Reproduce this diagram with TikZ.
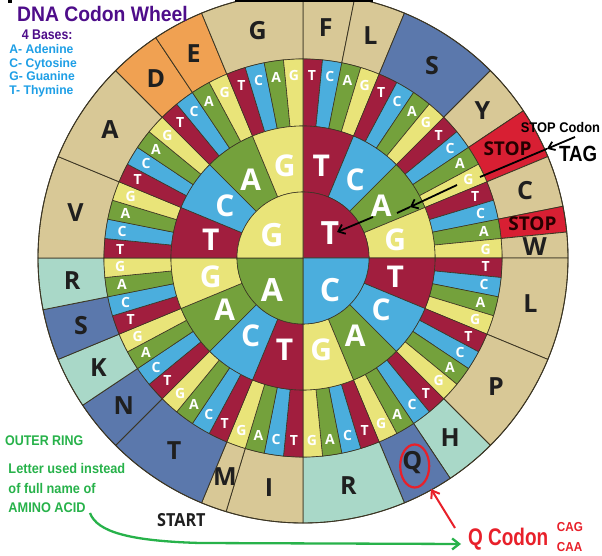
\documentclass[tikz,border=0pt]{standalone}
\usepackage{fontspec}
\setmainfont{Liberation Sans}
\newfontfamily\ringfont{Open Sans}
\usetikzlibrary{arrows.meta,shapes.geometric}
\definecolor{cT}{HTML}{A11E3E}
\definecolor{cC}{HTML}{4BAEDD}
\definecolor{cA}{HTML}{74A13C}
\definecolor{cG}{HTML}{E9E479}
\definecolor{tanc}{HTML}{D8C896}
\definecolor{slate}{HTML}{5B78AC}
\definecolor{mint}{HTML}{A9D8C8}
\definecolor{orng}{HTML}{F0A152}
\definecolor{stopred}{HTML}{D81F33}
\definecolor{edge}{HTML}{3B3523}
\definecolor{ttl}{HTML}{4E0D8A}
\definecolor{basecol}{HTML}{1E9FE6}
\definecolor{grn}{HTML}{27B24A}
\definecolor{qred}{HTML}{E8202A}
\tikzset{
  aalabel/.style={text=black!88, font=\ringfont\bfseries\fontsize{25}{25}\selectfont, inner sep=0pt},
  stoplabel/.style={text=black!85!red, font=\ringfont\bfseries\fontsize{19}{19}\selectfont, inner sep=0pt},
  outerlabel/.style={text=white, font=\ringfont\bfseries\fontsize{14}{14}\selectfont, inner sep=0pt},
  midlabel/.style={text=white, font=\ringfont\bfseries\fontsize{30}{30}\selectfont, inner sep=0pt},
  innerlabel/.style={text=white, font=\ringfont\bfseries\fontsize{32}{32}\selectfont, inner sep=0pt},
  seg/.style={draw=edge, line width=0.6pt},
  note/.style={anchor=base west, inner sep=0pt},
  basenote/.style={note, text=basecol, font=\bfseries\fontsize{12.5}{12.5}\selectfont, xscale=0.97},
  arr/.style={line width=1.8pt, black},
}
\begin{document}
\begin{tikzpicture}[x=1pt,y=1pt]
\clip (-303,-298) rectangle (299,258);
\fill[white] (-303,-298) rectangle (299,258);
% outer ring (amino acids)
\foreach \s/\e/\c/\l in {0/1/tanc/F, 2/3/tanc/L, 4/7/slate/S, 8/9/tanc/Y, 10/11/stopred/, 12/13/tanc/C, 14/14/stopred/, 15/15/tanc/W, 16/19/tanc/L, 20/23/tanc/P, 24/25/mint/H, 26/27/slate/Q, 28/31/mint/R, 32/34/tanc/I, 35/35/tanc/M, 36/39/slate/T, 40/41/slate/N, 42/43/mint/K, 44/45/slate/S, 46/47/mint/R, 48/51/tanc/V, 52/55/tanc/A, 56/57/orng/D, 58/59/orng/E, 60/63/tanc/G}{
  \pgfmathsetmacro\aa{90-5.625*\s}
  \pgfmathsetmacro\ab{90-5.625*(\e+1)}
  \pgfmathsetmacro\am{(\aa+\ab)/2}
  \filldraw[fill=\c, draw=edge, line width=0.8pt] (\aa:199) arc[start angle=\aa, end angle=\ab, radius=199] -- (\ab:265) arc[start angle=\ab, end angle=\aa, radius=265] -- cycle;
  \node[aalabel] (aa\s) at (\am:232) {\l};
}
\node[stoplabel] (stopa) at (28.125:232) {STOP};
\node[stoplabel] (stopb) at (8.4375:232) {STOP};
% third ring
\foreach \k in {0,...,63}{
  \pgfmathtruncatemacro\m{mod(\k,4)}
  \pgfmathsetmacro\aa{90-5.625*\k}
  \pgfmathsetmacro\ab{\aa-5.625}
  \pgfmathsetmacro\am{\aa-2.8125}
  \ifcase\m \def\cc{cT}\def\ll{T}\or \def\cc{cC}\def\ll{C}\or \def\cc{cA}\def\ll{A}\or \def\cc{cG}\def\ll{G}\fi
  \filldraw[seg, fill=\cc] (\aa:132) arc[start angle=\aa, end angle=\ab, radius=132] -- (\ab:199) arc[start angle=\ab, end angle=\aa, radius=199] -- cycle;
  \node[outerlabel] (t\k) at (\am:183) {\ll};
}
% second ring
\foreach \k in {0,...,15}{
  \pgfmathtruncatemacro\m{mod(\k,4)}
  \pgfmathsetmacro\aa{90-22.5*\k}
  \pgfmathsetmacro\ab{\aa-22.5}
  \pgfmathsetmacro\am{\aa-11.25}
  \ifcase\m \def\cc{cT}\def\ll{T}\or \def\cc{cC}\def\ll{C}\or \def\cc{cA}\def\ll{A}\or \def\cc{cG}\def\ll{G}\fi
  \filldraw[seg, fill=\cc] (\aa:66) arc[start angle=\aa, end angle=\ab, radius=66] -- (\ab:132) arc[start angle=\ab, end angle=\aa, radius=132] -- cycle;
  \node[midlabel] (m\k) at (\am:94) {\ll};
}
% inner circle
\filldraw[seg, fill=cT] (0,0) -- (90:66) arc[start angle=90, end angle=0, radius=66] -- cycle;
\filldraw[seg, fill=cC] (0,0) -- (0:66) arc[start angle=0, end angle=-90, radius=66] -- cycle;
\filldraw[seg, fill=cA] (0,0) -- (-90:66) arc[start angle=-90, end angle=-180, radius=66] -- cycle;
\filldraw[seg, fill=cG] (0,0) -- (180:66) arc[start angle=180, end angle=90, radius=66] -- cycle;
\node[innerlabel] (iT) at (27,25) {T};
\node[innerlabel] (iC) at (27,-32) {C};
\node[innerlabel] (iA) at (-31,-32) {A};
\node[innerlabel] (iG) at (-31,23) {G};
\draw[edge, line width=0.9pt] (0,0) circle[radius=265];
% annotations in image coordinates
\begin{scope}[shift={(-303,258)}, y=-1pt]
\fill[black] (235,0) rectangle (373,2.5);
\fill[black] (8,0) rectangle (12,3.5);
\node[note, text=ttl, font=\bfseries\fontsize{21}{21}\selectfont, xscale=0.92] (title) at (17,21.7) {DNA Codon Wheel};
\node[note, text=ttl, font=\bfseries\fontsize{14}{14}\selectfont, xscale=0.88] (bases) at (21.7,39.3) {4 Bases:};
\node[basenote] (bA) at (9.3,53.3) {A- Adenine};
\node[basenote] (bC) at (9.3,67.3) {C- Cytosine};
\node[basenote] (bG) at (9.3,80.7) {G- Guanine};
\node[basenote] (bT) at (9.3,95) {T- Thymine};
\node[note, text=black, font=\bfseries\fontsize{14}{14}\selectfont, xscale=0.92] (stopcodon) at (520.7,132.7) {STOP Codon};
\node[note, text=black, font=\bfseries\fontsize{22}{22}\selectfont, xscale=0.85] (tag) at (559,162) {TAG};
\node[note, text=grn, font=\bfseries\fontsize{14}{14}\selectfont, xscale=0.89] (outerring) at (5,445) {OUTER RING};
\node[note, text=grn, font=\bfseries\fontsize{14}{14}\selectfont, xscale=0.91] (l1) at (8.3,473.3) {Letter used instead};
\node[note, text=grn, font=\bfseries\fontsize{14}{14}\selectfont, xscale=0.91] (l2) at (8.3,493.3) {of full name of};
\node[note, text=grn, font=\bfseries\fontsize{14}{14}\selectfont, xscale=0.91] (l3) at (8.3,512.7) {AMINO ACID};
\node[note, text=black!88, font=\ringfont\bfseries\fontsize{18}{18}\selectfont, xscale=0.9] (start) at (157,526.7) {START};
\node[note, text=qred, font=\bfseries\fontsize{24}{24}\selectfont, xscale=0.79] (qcodon) at (468,545) {Q Codon};
\node[note, text=qred, font=\bfseries\fontsize{13}{13}\selectfont, xscale=0.9] (cag) at (556.7,531.7) {CAG};
\node[note, text=qred, font=\bfseries\fontsize{13}{13}\selectfont, xscale=0.9] (caa) at (556.7,551.7) {CAA};
\node[draw=qred, line width=2.2pt, ellipse, minimum width=29pt, minimum height=43pt, inner sep=0pt] (qring) at (414.7,466) {};
% arrows
\coordinate (qtail) at (455,528);
\coordinate (qtip) at (431,489);
\draw[qred, line width=2pt, -{Straight Barb[length=7pt,width=10pt]}] (qtail) -- (qtip);
\coordinate (gstart) at (90,513);
\coordinate (gmid) at (200,543);
\coordinate (gend) at (461,544);
\draw[grn, line width=2.3pt, -{Straight Barb[length=7pt,width=11pt]}] (gstart) .. controls (97,532) and (130,541) .. (gmid) -- (gend);
\coordinate (k1a) at (575,137);
\coordinate (k1b) at (547,148.8);
\coordinate (k1c) at (480,177);
\draw[arr, -{Straight Barb[length=6pt,width=9pt]}] (k1a) -- (k1b);
\draw[arr] (k1b) -- (k1c);
\coordinate (k2a) at (457,185);
\coordinate (k2b) at (410,207);
\coordinate (k2c) at (397,213);
\draw[arr, -{Straight Barb[length=6pt,width=10pt]}] (k2a) -- (k2b);
\draw[arr] (k2b) -- (k2c);
\coordinate (k3a) at (373,217);
\coordinate (k3b) at (337,232);
\draw[arr, -{Straight Barb[length=6pt,width=10pt]}] (k3a) -- (k3b);
\end{scope}
\end{tikzpicture}
\end{document}
